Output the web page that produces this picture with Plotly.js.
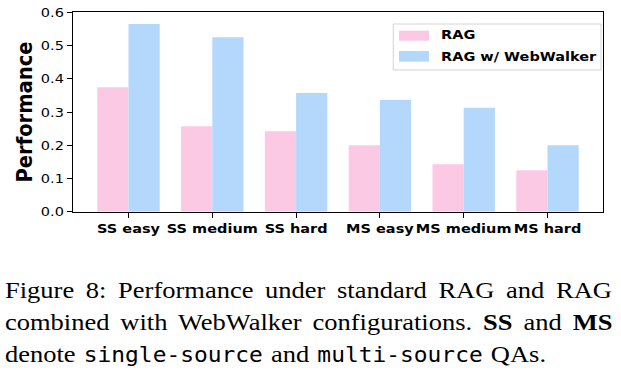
<!DOCTYPE html>
<html>
<head>
<meta charset="utf-8">
<script src="https://cdn.plot.ly/plotly-3.0.1.min.js"></script>
<style>
  html, body { margin:0; padding:0; background:#fff; overflow:hidden; }
  #wrap { width:621px; height:424px; transform:scale(1, 0.8892); transform-origin:0 0; }
  #chart { width:621px; height:424px; }
  .annotation[data-index="0"] text { word-spacing: 5.05px; }
  .annotation[data-index="1"] text { word-spacing: 4.3px; }
  .annotation[data-index="2"] text { word-spacing: 1.5px; }
</style>
</head>
<body>
<div id="wrap"><div id="chart"></div></div>
<script>
const categories = ['SS easy', 'SS medium', 'SS hard', 'MS easy', 'MS medium', 'MS hard'];
const seriesNames = ['RAG', 'RAG w/ WebWalker'];
const ragValues = [0.375, 0.257, 0.242, 0.200, 0.143, 0.125];
const webWalkerValues = [0.565, 0.525, 0.357, 0.336, 0.313, 0.200];
const yTickValues = [0, 0.1, 0.2, 0.3, 0.4, 0.5, 0.6];
const yTickLabels = ['0.0', '0.1', '0.2', '0.3', '0.4', '0.5', '0.6'];
const yTitle = 'Performance';
const captionLines = [
  'Figure 8: Performance under standard RAG and RAG',
  'combined with WebWalker configurations. <b>SS</b> and <b>MS</b>',
  'denote <span style="font-family:DejaVu Sans Mono;font-size:22.9px">single-source</span> and <span style="font-family:DejaVu Sans Mono;font-size:22.9px">multi-source</span> QAs.'
];

const colors = ['#FCC9E4', '#B3D8FC'];

const traces = [
  { type:'bar', x:categories, y:ragValues, name:seriesNames[0],
    marker:{ color:colors[0], line:{width:0} } },
  { type:'bar', x:categories, y:webWalkerValues, name:seriesNames[1],
    marker:{ color:colors[1], line:{width:0} } }
];

const capY = [-0.392, -0.5527, -0.7165];
const annotations = captionLines.map((t, i) => ({
  text: t, xref:'paper', yref:'paper', x:-0.1321, y:capY[i],
  xanchor:'left', yanchor:'middle', showarrow:false, align:'left',
  font:{ family:'"Liberation Serif", "Times New Roman", Times, serif', size:26.5, color:'#000' }
}));

// legend (drawn as paper-anchored box, swatches and labels)
const legSwatchY = [[0.8580, 0.9085], [0.7531, 0.8063]];
const legTextY = [0.8866, 0.7781];
const shapes = [
  { type:'rect', xref:'paper', yref:'paper', x0:0.6043, x1:0.9962, y0:0.7112, y1:0.9420,
    line:{ color:'#d0d0d0', width:1 }, fillcolor:'rgba(255,255,255,0.8)', layer:'above' }
];
seriesNames.forEach((n, i) => {
  shapes.push({ type:'rect', xref:'paper', yref:'paper', x0:0.6151, x1:0.6717,
    y0:legSwatchY[i][0], y1:legSwatchY[i][1], line:{ width:0 }, fillcolor:colors[i], layer:'above' });
  annotations.push({ text:n, xref:'paper', yref:'paper', x:0.6915, y:legTextY[i],
    xanchor:'left', yanchor:'middle', showarrow:false,
    font:{ family:'DejaVu Sans', size:14.5, weight:'bold', color:'#000' } });
});

const layout = {
  width:621, height:424,
  margin:{ l:73, r:18, t:14, b:186 },
  paper_bgcolor:'#fff', plot_bgcolor:'#fff',
  barmode:'group', bargap:0.255, bargroupgap:0,
  showlegend:false,
  xaxis:{ type:'category', range:[-0.6625, 5.6625], tickangle:0,
    showline:true, mirror:true, linecolor:'#000', linewidth:1.2,
    ticks:'outside', ticklen:5.6, tickwidth:1.2, tickcolor:'#000',
    showgrid:false, zeroline:false,
    tickfont:{ family:'DejaVu Sans', size:14.5, weight:'bold', color:'#000' } },
  yaxis:{ range:[0, 0.6], tickvals:yTickValues, ticktext:yTickLabels,
    showline:true, mirror:true, linecolor:'#000', linewidth:1.2,
    ticks:'outside', ticklen:5, tickwidth:1.2, tickcolor:'#000',
    showgrid:false, zeroline:false,
    tickfont:{ family:'DejaVu Sans', size:14.5, color:'#000' },
    title:{ text:yTitle, standoff:2,
      font:{ family:'DejaVu Sans', size:22, weight:'bold', color:'#000' } } },
  shapes: shapes,
  annotations: annotations
};

Plotly.newPlot('chart', traces, layout, { staticPlot:true, displayModeBar:false });
</script>
</body>
</html>
